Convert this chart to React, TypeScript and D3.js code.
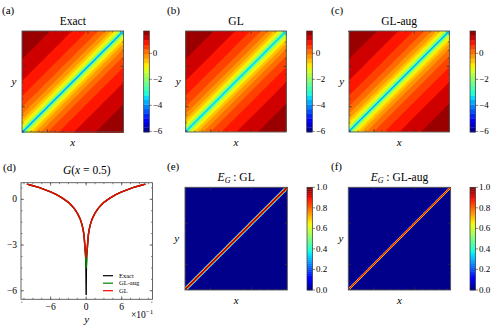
import React, { useMemo } from "react";
import * as d3 from "d3";

// G against the distance |x - y| (the square is 2 units wide)
const distT = [0, 0.0025, 0.005, 0.01, 0.015, 0.02, 0.03, 0.04, 0.05, 0.07, 0.1, 0.15, 0.2, 0.25, 0.3, 0.4, 0.5, 0.6, 0.7, 0.8, 0.9, 1.0, 1.2, 1.4, 1.6, 1.8, 2.0];
const gExact = [-6.25, -4.99, -4.3, -3.7, -3.45, -3.2, -2.65, -2.25, -2.0, -1.66, -1.3, -0.9, -0.61, -0.39, -0.2, 0.08, 0.31, 0.49, 0.64, 0.78, 0.89, 1.0, 1.18, 1.34, 1.47, 1.59, 1.69];
const gAug = [-4.5, -4.45, -4.2, -3.7, -3.45, -3.2, -2.65, -2.25, -2.0, -1.66, -1.3, -0.9, -0.61, -0.39, -0.2, 0.08, 0.31, 0.49, 0.64, 0.78, 0.89, 1.0, 1.18, 1.34, 1.47, 1.59, 1.69];
const gGL = [-3.8, -3.7, -3.6, -3.41, -3.25, -3.05, -2.64, -2.25, -2.0, -1.66, -1.3, -0.9, -0.61, -0.39, -0.2, 0.08, 0.31, 0.49, 0.64, 0.78, 0.89, 1.0, 1.18, 1.34, 1.47, 1.59, 1.69];

// pointwise error E_G against |x - y|
const errT = [0, 0.01, 0.02, 0.03, 0.04, 0.05, 0.06, 0.08, 0.1, 2.0];
const errGL = [1.0, 0.95, 0.8, 0.55, 0.3, 0.12, 0.04, 0.01, 0, 0];
const errAug = [1.0, 0.8, 0.35, 0.05, 0, 0, 0, 0, 0, 0];

const gTicks = [0, -2, -4, -6];
const eTicks = [0, 0.2, 0.4, 0.6, 0.8, 1.0];
const cutXTicks = [-6, 0, 6];
const cutYTicks = [0, -3, -6];
const legendNames = ["Exact", "GL-aug", "GL"];

const FONT = "'Liberation Serif', serif";
const lineColors = ["#000000", "#008000", "#ff0000"];
const G_MIN = -6.05, G_MAX = 1.72, G_LEVELS = 22;
const E_MIN = 0, E_MAX = 1, E_LEVELS = 50;
const N = 200;

// matplotlib "jet"
const jetR = d3.scaleLinear().domain([0, 0.35, 0.66, 0.89, 1]).range([0, 0, 1, 1, 0.5]).clamp(true);
const jetG = d3.scaleLinear().domain([0, 0.125, 0.375, 0.64, 0.91, 1]).range([0, 0, 1, 1, 0, 0]).clamp(true);
const jetB = d3.scaleLinear().domain([0, 0.11, 0.34, 0.65, 1]).range([0.5, 1, 1, 0, 0]).clamp(true);
const jet = (f: number) => d3.rgb(255 * jetR(f), 255 * jetG(f), 255 * jetB(f)).formatHex();

const levelsOf = (lo: number, hi: number, n: number) => d3.range(n + 1).map((i) => lo + (i * (hi - lo)) / n);

function bandColors(levels: number[]) {
  const lo = levels[0], hi = levels[levels.length - 1];
  return levels.slice(0, -1).map((l, i) => jet(((l + levels[i + 1]) / 2 - lo) / (hi - lo)));
}

function buildField(ts: number[], vs: number[]) {
  const prof = d3.scaleLinear().domain(ts).range(vs).clamp(true);
  const values = new Float64Array(N * N);
  for (let r = 0; r < N; r++)
    for (let c = 0; c < N; c++) values[r * N + c] = prof((Math.abs(c + r + 1 - N) * 2) / N);
  return values;
}

function HeatPanel({ x0, y0, w, h, ts, vs, levels, label, title, lx, ly }: any) {
  const colors = bandColors(levels);
  const shapes = useMemo(() => {
    const values = buildField(ts, vs);
    const cs = d3.contours().size([N, N]).thresholds(levels.slice(1, -1))(Array.from(values));
    const path = d3.geoPath(d3.geoIdentity().scale(w / N).translate([x0, y0]) as any);
    return cs.map((c, i) => ({ d: path(c as any) || "", fill: colors[i + 1] }));
  }, []);
  const majF = [0.25, 0.65];
  const minF = d3.range(0.01, 1, 0.08);
  const ticks: any[] = [];
  const addTicks = (fs: number[], len: number) =>
    fs.forEach((f, i) => {
      const tx = x0 + f * w, ty = y0 + h - f * h;
      ticks.push(<line key={`b${len}${i}`} x1={tx} x2={tx} y1={y0 + h} y2={y0 + h - len} />);
      ticks.push(<line key={`t${len}${i}`} x1={tx} x2={tx} y1={y0} y2={y0 + len} />);
      ticks.push(<line key={`l${len}${i}`} x1={x0} x2={x0 + len} y1={ty} y2={ty} />);
      ticks.push(<line key={`r${len}${i}`} x1={x0 + w} x2={x0 + w - len} y1={ty} y2={ty} />);
    });
  addTicks(majF, 3);
  addTicks(minF, 1.5);
  return (
    <g>
      <rect x={x0} y={y0} width={w} height={h} fill={colors[0]} />
      {shapes.map((s, i) => (
        <path key={i} d={s.d} fill={s.fill} />
      ))}
      <g stroke="#333" strokeWidth={0.6}>{ticks}</g>
      <rect x={x0} y={y0} width={w} height={h} fill="none" stroke="#555" strokeWidth={0.9} />
      <text x={x0 + w / 2} y={y0 - 6} textAnchor="middle" fontSize={11.5} fontFamily={FONT}>
        {title}
      </text>
      <text x={lx} y={y0 - 17} fontSize={11} fontFamily={FONT}>
        {label}
      </text>
      <text x={ly} y={y0 + h / 2 + 3} textAnchor="middle" fontSize={11} fontStyle="italic" fontFamily={FONT}>
        y
      </text>
      <text x={x0 + w / 2} y={y0 + h + 14} textAnchor="middle" fontSize={11} fontStyle="italic" fontFamily={FONT}>
        x
      </text>
    </g>
  );
}

function ColorBar({ x, y0, w, h, levels, ticks, fmt }: any) {
  const colors = bandColors(levels);
  const s = d3.scaleLinear().domain([levels[0], levels[levels.length - 1]]).range([y0 + h, y0]);
  return (
    <g>
      {colors.map((c: string, i: number) => (
        <rect key={i} x={x} y={s(levels[i + 1])} width={w} height={s(levels[i]) - s(levels[i + 1]) + 0.3} fill={c} />
      ))}
      <rect x={x} y={y0} width={w} height={h} fill="none" stroke="#333" strokeWidth={0.7} />
      {ticks.map((t: number) => (
        <g key={t}>
          <line x1={x + w} x2={x + w + 2.5} y1={s(t)} y2={s(t)} stroke="#333" strokeWidth={0.6} />
          <text x={x + w + 3.5} y={s(t) + 3} fontSize={9} fontFamily={FONT}>
            {fmt(t)}
          </text>
        </g>
      ))}
    </g>
  );
}

const minus = (v: number) => (v < 0 ? "\u2212" + Math.abs(v) : String(v));

function CutPanel() {
  const x = d3.scaleLinear().domain([-1.1, 1.12]).range([21, 152.5]);
  const y = d3.scaleLinear().domain([-6.56, 1.09]).range([299.3, 182.7]);
  const pts = (vs: number[]) => {
    const idx = distT.map((t, i) => i).filter((i) => distT[i] <= 1);
    const left = idx.slice(1).reverse().map((i) => [-distT[i], vs[i]]);
    const right = idx.map((i) => [distT[i], vs[i]]);
    return [...left, ...right] as [number, number][];
  };
  const line = d3.line<[number, number]>().x((d) => x(d[0])).y((d) => y(d[1]));
  const series = [gExact, gAug, gGL];
  const [x0, x1] = x.range();
  const [yb, yt] = y.range();
  const xMinor = d3.range(-10.5, 11, 1.5).map((v) => v / 10);
  const yMinor = d3.range(-6.75, 1.1, 0.75);
  return (
    <g>
      <defs>
        <clipPath id="cutclip">
          <rect x={x0} y={yt} width={x1 - x0} height={yb - yt} />
        </clipPath>
      </defs>
      <g clipPath="url(#cutclip)">
        {series.map((s, i) => (
          <path key={i} d={line(pts(s)) || ""} fill="none" stroke={lineColors[i]} strokeWidth={1.4} strokeLinejoin="round" />
        ))}
      </g>
      <g stroke="#333" strokeWidth={0.6}>
        {xMinor.map((v) => (
          <g key={v}>
            <line x1={x(v)} x2={x(v)} y1={yb} y2={yb - 1.5} />
            <line x1={x(v)} x2={x(v)} y1={yt} y2={yt + 1.5} />
          </g>
        ))}
        {cutXTicks.map((v) => (
          <g key={v}>
            <line x1={x(v / 10)} x2={x(v / 10)} y1={yb} y2={yb - 3} />
            <line x1={x(v / 10)} x2={x(v / 10)} y1={yt} y2={yt + 3} />
          </g>
        ))}
        {yMinor.map((v) => (
          <g key={v}>
            <line x1={x0} x2={x0 + 1.5} y1={y(v)} y2={y(v)} />
            <line x1={x1} x2={x1 - 1.5} y1={y(v)} y2={y(v)} />
          </g>
        ))}
        {cutYTicks.map((v) => (
          <g key={v}>
            <line x1={x0} x2={x0 + 3} y1={y(v)} y2={y(v)} />
            <line x1={x1} x2={x1 - 3} y1={y(v)} y2={y(v)} />
          </g>
        ))}
      </g>
      <rect x={x0} y={yt} width={x1 - x0} height={yb - yt} fill="none" stroke="#555" strokeWidth={0.9} />
      {cutXTicks.map((v) => (
        <text key={v} x={x(v / 10)} y={yb + 11} textAnchor="middle" fontSize={9.5} fontFamily={FONT}>
          {minus(v)}
        </text>
      ))}
      {cutYTicks.map((v) => (
        <text key={v} x={x0 - 4} y={y(v) + 3} textAnchor="end" fontSize={9.5} fontFamily={FONT}>
          {minus(v)}
        </text>
      ))}
      <text x={(x0 + x1) / 2} y={yb + 24} textAnchor="middle" fontSize={11} fontStyle="italic" fontFamily={FONT}>
        y
      </text>
      <text x={131} y={318} fontSize={9.5} fontFamily={FONT}>
        {"\u00d710"}
        <tspan dy={-4} fontSize={7}>
          {"\u22121"}
        </tspan>
      </text>
      <text x={(x0 + x1) / 2} y={174} textAnchor="middle" fontSize={11.5} fontFamily={FONT}>
        <tspan fontStyle="italic">G</tspan>(<tspan fontStyle="italic">x</tspan> = 0.5)
      </text>
      <text x={3} y={171} fontSize={11} fontFamily={FONT}>
        (d)
      </text>
      {legendNames.map((n, i) => (
        <g key={n}>
          <line x1={103} x2={113} y1={275.7 + i * 7.5} y2={275.7 + i * 7.5} stroke={lineColors[i]} strokeWidth={1.2} />
          <text x={119} y={275.7 + i * 7.5 + 2} fontSize={6.5} fontFamily={FONT}>
            {n}
          </text>
        </g>
      ))}
    </g>
  );
}

const errTitle = (name: string) => (
  <>
    <tspan fontStyle="italic">E</tspan>
    <tspan fontStyle="italic" fontSize={8} dy={2}>
      G
    </tspan>
    <tspan dy={-2}> : {name}</tspan>
  </>
);

export default function App() {
  const gLevels = levelsOf(G_MIN, G_MAX, G_LEVELS);
  const eLevels = levelsOf(E_MIN, E_MAX, E_LEVELS);
  const fmtE = (v: number) => v.toFixed(1);
  return (
    <svg width={495} height={328} style={{ position: "absolute", left: 0, top: 0, background: "#fff" }}>
      <HeatPanel x0={22} y0={31} w={101.5} h={101} ts={distT} vs={gExact} levels={gLevels} label="(a)" title="Exact" lx={2} ly={14} />
      <ColorBar x={143.7} y0={31} w={5.6} h={101} levels={gLevels} ticks={gTicks} fmt={minus} />
      <HeatPanel x0={185.7} y0={31} w={100.6} h={101} ts={distT} vs={gGL} levels={gLevels} label="(b)" title="GL" lx={167} ly={178.3} />
      <ColorBar x={306.7} y0={31} w={5.6} h={101} levels={gLevels} ticks={gTicks} fmt={minus} />
      <HeatPanel x0={349} y0={31} w={100.4} h={101} ts={distT} vs={gAug} levels={gLevels} label="(c)" title="GL-aug" lx={331} ly={341.7} />
      <ColorBar x={470} y0={31} w={5.6} h={101} levels={gLevels} ticks={gTicks} fmt={minus} />
      <CutPanel />
      <HeatPanel x0={185} y0={187.3} w={102.3} h={102.7} ts={errT} vs={errGL} levels={eLevels} label="(e)" title={errTitle("GL")} lx={167} ly={176.7} />
      <ColorBar x={307} y0={187.3} w={5.5} h={102.7} levels={eLevels} ticks={eTicks} fmt={fmtE} />
      <HeatPanel x0={348.3} y0={187.3} w={102.3} h={102.7} ts={errT} vs={errAug} levels={eLevels} label="(f)" title={errTitle("GL-aug")} lx={331} ly={341} />
      <ColorBar x={470} y0={187.3} w={5.5} h={102.7} levels={eLevels} ticks={eTicks} fmt={fmtE} />
    </svg>
  );
}
